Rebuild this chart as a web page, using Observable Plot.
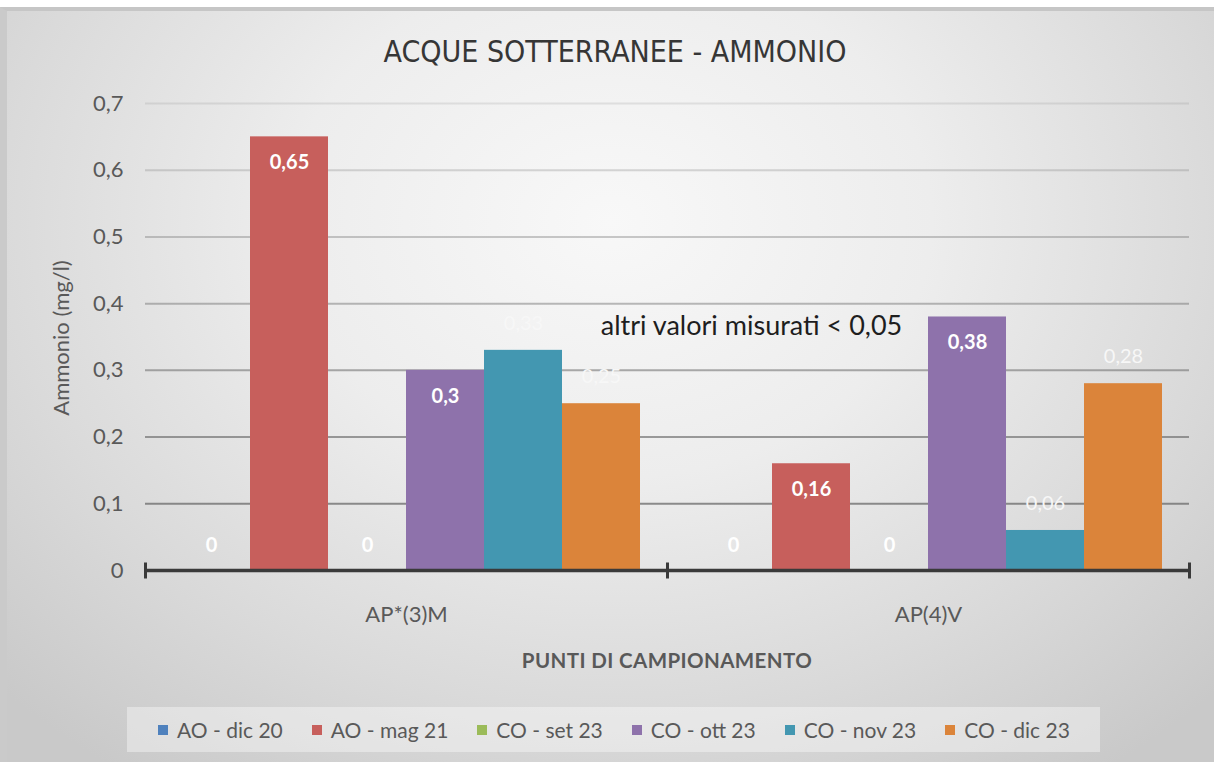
<!DOCTYPE html>
<html>
<head>
<meta charset="utf-8">
<script src="https://cdn.jsdelivr.net/npm/d3@7"></script>
<script src="https://cdn.jsdelivr.net/npm/@observablehq/plot@0.6"></script>
<style>
  html, body { margin: 0; padding: 0; background: #ffffff; }
  body { width: 1214px; height: 762px; position: relative; overflow: hidden; font-family: Lato, "Liberation Sans", sans-serif; }
  #bg { position: absolute; left: 0; top: 7px; width: 1214px; height: 755px; box-sizing: border-box;
        border-top: 4px solid #c6c6c6; border-left: 7px solid #cacaca;
        background: radial-gradient(ellipse 70% 90% at 50% 28%, #f8f8f8 0%, #ededed 38%, #dadada 72%, #c9c9c9 100%); }
  #title { position: absolute; left: 0; width: 1230px; top: 32px; line-height: 40px; text-align: center;
           font-family: "Liberation Sans Narrow", "Arial Narrow", "DejaVu Sans Condensed", sans-serif; font-size: 30px; color: #363636; }
  #chart { position: absolute; left: 0; top: 85px; }
  #ytitle { position: absolute; left: 60px; top: 338px; transform: translate(-50%, -50%) rotate(-90deg);
            white-space: nowrap; font-size: 22px; color: #595959; }
  #xtitle { position: absolute; left: 0; width: 1334px; top: 648px; line-height: 24px; text-align: center;
            font-size: 20.5px; font-weight: bold; color: #595959; letter-spacing: 0.4px; }
  #legend { position: absolute; left: 127px; top: 707px; width: 973px; height: 45px; box-sizing: border-box;
            padding-left: 31px; display: flex; align-items: center; gap: 29px; background: rgba(255,255,255,0.38); }
  #legend .item { display: flex; align-items: center; font-size: 21px; color: #595959; white-space: nowrap; }
  #legend .sw { width: 10px; height: 10px; margin-right: 9px; }
</style>
</head>
<body>
<div id="bg"></div>
<div id="title">ACQUE SOTTERRANEE - AMMONIO</div>
<div id="chart"></div>
<div id="ytitle">Ammonio (mg/l)</div>
<div id="xtitle">PUNTI DI CAMPIONAMENTO</div>
<div id="legend"></div>
<script>
// ---- data ----
const groups = ["AP*(3)M", "AP(4)V"];
const series = ["AO - dic 20", "AO - mag 21", "CO - set 23", "CO - ott 23", "CO - nov 23", "CO - dic 23"];
const colors = ["#4f81bd", "#c75f5c", "#9bbb59", "#8e72ab", "#4397b1", "#db843a"];
const valuesAP3M = [0, 0.65, 0, 0.3, 0.33, 0.25];
const valuesAP4V = [0, 0.16, 0, 0.38, 0.06, 0.28];
const yTicks = [0, 0.1, 0.2, 0.3, 0.4, 0.5, 0.6, 0.7];
const yTickLabels = ["0", "0,1", "0,2", "0,3", "0,4", "0,5", "0,6", "0,7"];
const note = "altri valori misurati < 0,05";
const noteLevel = 0.366;

// series label placement (Excel style)
const insideSeries = ["AO - mag 21", "CO - ott 23"];
const zeroSeries = ["AO - dic 20", "CO - set 23"];

const valuesByGroup = [valuesAP3M, valuesAP4V];
const data = groups.flatMap((g, gi) => series.map((s, si) => ({group: g, series: s, value: valuesByGroup[gi][si]})));
const fmt = v => String(v).replace(".", ",");

const tickSymbol = {draw(ctx) { ctx.moveTo(0, -8); ctx.lineTo(0, 8); }};

const plot = Plot.plot({
  width: 1214,
  height: 610,
  marginTop: 18,
  marginBottom: 125,
  marginLeft: 145,
  marginRight: 25,
  style: {background: "transparent", fontFamily: "Lato, 'Liberation Sans', sans-serif", fontSize: "22px", color: "#595959"},
  fx: {domain: groups, padding: 0, label: null, axis: "bottom", tickSize: 0, tickPadding: 36},
  x: {domain: series, paddingInner: 0, paddingOuter: 0.34, axis: null},
  y: {domain: [0, 0.7], ticks: yTicks, tickFormat: d => yTickLabels[yTicks.indexOf(d)] ?? fmt(d), tickSize: 0, tickPadding: 22, label: null},
  color: {domain: series, range: colors},
  marks: [
    Plot.ruleY(yTicks.filter(d => d > 0), {stroke: "#6a6a6a", strokeWidth: 2, strokeOpacity: d => 0.85 - d}),
    Plot.barY(data, {fx: "group", x: "series", y: "value", fill: "series"}),
    Plot.ruleY([0], {stroke: "#3a3a3a", strokeWidth: 3.5}),
    Plot.dot(groups, {fx: d => d, frameAnchor: "bottom-left", symbol: tickSymbol, fill: "none", stroke: "#3a3a3a", strokeWidth: 3}),
    Plot.dot(groups.slice(-1), {fx: d => d, frameAnchor: "bottom-right", symbol: tickSymbol, fill: "none", stroke: "#3a3a3a", strokeWidth: 3}),
    Plot.text(data.filter(d => insideSeries.includes(d.series)), {fx: "group", x: "series", y: "value", text: d => fmt(d.value), fill: "white", fontWeight: "bold", fontSize: 20, dy: 26}),
    Plot.text(data.filter(d => zeroSeries.includes(d.series)), {fx: "group", x: "series", y: "value", text: d => fmt(d.value), fill: "white", fontWeight: "bold", fontSize: 20, dy: -25}),
    Plot.text(data.filter(d => !insideSeries.includes(d.series) && !zeroSeries.includes(d.series)), {fx: "group", x: "series", y: "value", text: d => fmt(d.value), fill: "#f7f7f7", fontSize: 20, dy: -27}),
    Plot.text([note], {fx: () => groups[1], frameAnchor: "left", y: () => noteLevel, text: d => d, textAnchor: "middle", dx: 84, fontSize: 27, fill: "#1e1e1e"})
  ]
});
document.getElementById("chart").appendChild(plot);

const legend = document.getElementById("legend");
series.forEach((s, i) => {
  const item = document.createElement("div");
  item.className = "item";
  const sw = document.createElement("span");
  sw.className = "sw";
  sw.style.background = colors[i];
  item.appendChild(sw);
  item.appendChild(document.createTextNode(s));
  legend.appendChild(item);
});
</script>
</body>
</html>
